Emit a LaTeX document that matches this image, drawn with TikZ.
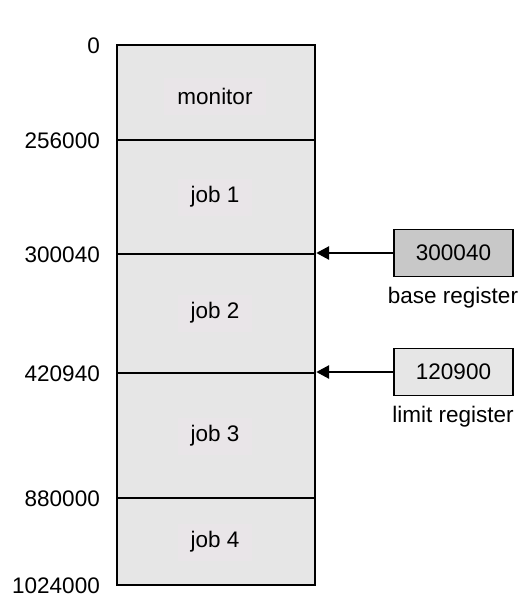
\documentclass[tikz,border=0pt]{standalone}
\usepackage{fontspec}
\setmainfont{Liberation Sans}
\usetikzlibrary{arrows.meta}
\definecolor{memfill}{HTML}{E6E6E6}
\definecolor{tagfill}{HTML}{E9E5E8}
\definecolor{basefill}{HTML}{C8C8C8}
\begin{document}
\begin{tikzpicture}[x=1pt,y=-1pt,
  font=\fontsize{22.5}{27}\selectfont,
  region/.style={draw, line width=2.2pt, fill=memfill, minimum width=198pt, inner sep=0pt, anchor=north west},
  tag/.style={fill=tagfill, inner xsep=13pt, minimum height=37pt},
  addr/.style={anchor=east, inner sep=0pt},
  reg/.style={draw, line width=1.8pt, minimum width=119pt, minimum height=47pt, inner sep=0pt},
  ptr/.style={line width=2.8pt, -{Triangle[length=13pt,width=13pt]}}]
\useasboundingbox (0,0) rectangle (529,606);
% memory regions
\node[region, minimum height=95pt]  (mon)  at (116,44)  {};
\node[region, minimum height=114pt] (j1)   at (116,139) {};
\node[region, minimum height=119pt] (j2)   at (116,253) {};
\node[region, minimum height=125pt] (j3)   at (116,372) {};
\node[region, minimum height=87pt]  (j4)   at (116,497) {};
% region texts
\node[tag] (tmon) at (215,96)  {monitor};
\node[tag] (tj1)  at (215,197) {job 1};
\node[tag] (tj2)  at (215,313) {job 2};
\node[tag] (tj3)  at (215,436) {job 3};
\node[tag] (tj4)  at (215,542) {job 4};
% addresses
\node[addr] (a0) at (100,46)  {0};
\node[addr] (a1) at (100,141) {256000};
\node[addr] (a2) at (100,255) {300040};
\node[addr] (a3) at (100,374) {420940};
\node[addr] (a4) at (100,499) {880000};
\node[addr] (a5) at (100,586) {1024000};
% registers
\node[reg, fill=basefill] (base)  at (453.5,253) {300040};
\node[reg, fill=memfill]  (limit) at (453.5,372) {120900};
\node (bl) at (453,298) {base register};
\node (ll) at (453,417) {limit register};
% pointers
\draw[ptr] (base.west) -- (j2.north east);
\draw[ptr] (limit.west) -- (j3.north east);
\end{tikzpicture}
\end{document}
